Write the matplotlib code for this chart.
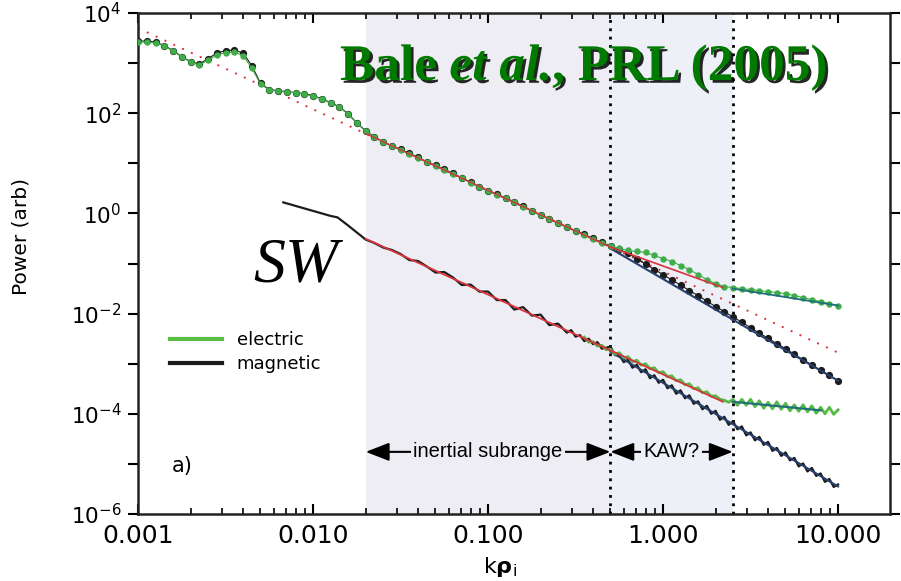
import matplotlib.pyplot as plt
import matplotlib.patheffects as pe
from matplotlib.lines import Line2D
from matplotlib.ticker import NullFormatter
import numpy as np

lk_upper = [-3.00, -2.95, -2.90, -2.85, -2.80, -2.75, -2.70, -2.65, -2.60, -2.55,
            -2.50, -2.45, -2.40, -2.35, -2.30, -2.25, -2.20, -2.15, -2.10, -2.05,
            -2.00, -1.95, -1.90, -1.85, -1.80, -1.75, -1.70, -1.65, -1.60, -1.55,
            -1.50, -1.45, -1.40, -1.35, -1.30, -1.25, -1.20, -1.15, -1.10, -1.05,
            -1.00, -0.95, -0.90, -0.85, -0.80, -0.75, -0.70, -0.65, -0.60, -0.55,
            -0.50, -0.45, -0.40, -0.35, -0.30, -0.25, -0.20, -0.15, -0.10, -0.05,
            0.00, 0.05, 0.10, 0.15, 0.20, 0.25, 0.30, 0.35, 0.40, 0.45,
            0.50, 0.55, 0.60, 0.65, 0.70, 0.75, 0.80, 0.85, 0.90, 0.95,
            1.00]
lp_upper_electric = [3.42, 3.42, 3.40, 3.34, 3.24, 3.12, 3.02, 2.96, 3.06, 3.16,
                     3.21, 3.22, 3.15, 2.90, 2.58, 2.46, 2.44, 2.42, 2.41, 2.38,
                     2.34, 2.28, 2.20, 2.12, 1.98, 1.80, 1.64, 1.52, 1.42, 1.34,
                     1.27, 1.19, 1.11, 1.02, 0.95, 0.87, 0.79, 0.70, 0.61, 0.52,
                     0.44, 0.37, 0.30, 0.22, 0.13, 0.04, -0.04, -0.12, -0.20, -0.28,
                     -0.36, -0.43, -0.51, -0.59, -0.66, -0.70, -0.74, -0.76, -0.78, -0.84,
                     -0.90, -0.96, -1.04, -1.12, -1.22, -1.32, -1.40, -1.46, -1.48, -1.50,
                     -1.52, -1.54, -1.56, -1.58, -1.60, -1.64, -1.68, -1.72, -1.76, -1.80,
                     -1.84]
lp_upper_magnetic = [3.44, 3.44, 3.42, 3.35, 3.25, 3.13, 3.03, 2.98, 3.09, 3.20,
                     3.25, 3.26, 3.20, 2.95, 2.60, 2.47, 2.45, 2.43, 2.41, 2.39,
                     2.35, 2.29, 2.21, 2.13, 1.99, 1.81, 1.65, 1.53, 1.43, 1.35,
                     1.28, 1.20, 1.12, 1.03, 0.96, 0.88, 0.80, 0.71, 0.62, 0.53,
                     0.45, 0.38, 0.31, 0.23, 0.14, 0.05, -0.03, -0.11, -0.19, -0.27,
                     -0.35, -0.42, -0.50, -0.58, -0.65, -0.72, -0.80, -0.90, -1.01, -1.12,
                     -1.22, -1.33, -1.43, -1.54, -1.64, -1.75, -1.86, -1.96, -2.07, -2.17,
                     -2.28, -2.39, -2.49, -2.60, -2.70, -2.81, -2.92, -3.02, -3.13, -3.23,
                     -3.34]

lk_lower_magnetic = [-2.17, -2.10, -2.00, -1.90, -1.86, -1.80, -1.75, -1.70, -1.65, -1.60,
                     -1.55, -1.50, -1.45, -1.40, -1.35, -1.30, -1.25, -1.20, -1.15, -1.10,
                     -1.05, -1.00, -0.95, -0.90, -0.85, -0.80, -0.75, -0.70, -0.65, -0.60,
                     -0.55, -0.525, -0.50, -0.475, -0.45, -0.425, -0.40, -0.375, -0.35, -0.325,
                     -0.30, -0.275, -0.25, -0.225, -0.20, -0.175, -0.15, -0.125, -0.10, -0.075,
                     -0.05, -0.025, 0.00, 0.025, 0.05, 0.075, 0.10, 0.125, 0.15, 0.175,
                     0.20, 0.225, 0.25, 0.275, 0.30, 0.325, 0.35, 0.375, 0.40, 0.425,
                     0.45, 0.475, 0.50, 0.525, 0.55, 0.575, 0.60, 0.625, 0.65, 0.675,
                     0.70, 0.725, 0.75, 0.775, 0.80, 0.825, 0.85, 0.875, 0.90, 0.925,
                     0.95, 0.975, 1.00]
lp_lower_magnetic = [0.22, 0.15, 0.05, -0.05, -0.08, -0.24, -0.38, -0.52, -0.59, -0.68,
                     -0.73, -0.81, -0.93, -0.95, -1.06, -1.18, -1.17, -1.28, -1.43, -1.42,
                     -1.56, -1.56, -1.73, -1.73, -1.92, -1.87, -2.04, -2.02, -2.23, -2.20,
                     -2.38, -2.33, -2.46, -2.43, -2.55, -2.50, -2.61, -2.57, -2.70, -2.68,
                     -2.66, -2.83, -2.82, -2.97, -2.92, -3.08, -3.02, -3.17, -3.11, -3.29,
                     -3.23, -3.38, -3.32, -3.49, -3.43, -3.60, -3.53, -3.69, -3.63, -3.80,
                     -3.75, -3.91, -3.84, -4.00, -3.94, -4.12, -4.06, -4.22, -4.15, -4.31,
                     -4.25, -4.43, -4.37, -4.53, -4.46, -4.62, -4.56, -4.74, -4.68, -4.84,
                     -4.77, -4.93, -4.88, -5.05, -4.99, -5.15, -5.08, -5.24, -5.19, -5.36,
                     -5.30, -5.46, -5.41]

lk_lower_electric = [-0.45, -0.425, -0.40, -0.375, -0.35, -0.325, -0.30, -0.275, -0.25, -0.225,
                     -0.20, -0.175, -0.15, -0.125, -0.10, -0.075, -0.05, -0.025, 0.00, 0.025,
                     0.05, 0.075, 0.10, 0.125, 0.15, 0.175, 0.20, 0.225, 0.25, 0.275,
                     0.30, 0.325, 0.35, 0.375, 0.40, 0.425, 0.45, 0.475, 0.50, 0.525,
                     0.55, 0.575, 0.60, 0.625, 0.65, 0.675, 0.70, 0.725, 0.75, 0.775,
                     0.80, 0.825, 0.85, 0.875, 0.90, 0.925, 0.95, 0.975, 1.00]
lp_lower_electric = [-2.47, -2.57, -2.56, -2.65, -2.63, -2.72, -2.71, -2.81, -2.78, -2.88,
                     -2.86, -2.96, -2.93, -3.03, -3.00, -3.10, -3.08, -3.18, -3.16, -3.26,
                     -3.24, -3.34, -3.32, -3.42, -3.40, -3.50, -3.48, -3.58, -3.56, -3.65,
                     -3.64, -3.71, -3.73, -3.77, -3.71, -3.83, -3.71, -3.83, -3.71, -3.86,
                     -3.74, -3.89, -3.77, -3.90, -3.76, -3.91, -3.79, -3.94, -3.82, -3.95,
                     -3.82, -3.96, -3.84, -3.99, -3.87, -4.00, -3.87, -4.01, -3.92]

# power-law fits, endpoints (k rho_i, power)
fit_k53_k = [0.001, 10.0]
fit_k53_p = [5.0e3, 1.66e-3]
fit_upper_inertial_k = [0.02, 0.5]
fit_upper_inertial_p = [39.1, 0.213]
fit_upper_kaw_k = [0.5, 2.2]
fit_upper_kaw_p = [0.213, 0.0331]
fit_lower_k = [0.02, 2.2]
fit_lower_p = [0.311, 1.74e-4]
fit_upper_mag_k = [0.5, 10.0]
fit_upper_mag_p = [0.20, 4.57e-4]
fit_upper_ele_k = [2.5, 10.0]
fit_upper_ele_p = [0.0316, 0.0145]
fit_lower_mag_k = [0.5, 10.0]
fit_lower_mag_p = [1.74e-3, 3.55e-6]
fit_lower_ele_k = [2.5, 8.0]
fit_lower_ele_p = [1.74e-4, 1.17e-4]

# ranges and axis labels
inertial_range = (0.02, 0.5)
kaw_range = (0.5, 2.5)
xtick_vals = [0.001, 0.01, 0.1, 1.0, 10.0]
xtick_text = ['0.001', '0.010', '0.100', '1.000', '10.000']
ytick_major = [1e-6, 1e-4, 1e-2, 1e0, 1e2, 1e4]
ytick_minor = [1e-5, 1e-3, 1e-1, 1e1, 1e3]

green = '#3fae48'
black = '#1c1c1c'
red = '#d9343d'

fig = plt.figure(figsize=(9.01, 5.81), dpi=100)
ax = fig.add_axes([0.1532, 0.1153, 0.8346, 0.8623])
ax.set_xscale('log')
ax.set_yscale('log')
ax.set_xlim(0.001, 19.8)
ax.set_ylim(1e-6, 1e4)

ax.axvspan(*inertial_range, color='#efedf4', lw=0, zorder=0)
ax.axvspan(*kaw_range, color='#edf0f6', lw=0, zorder=0)
for xv in (inertial_range[1], kaw_range[1]):
    ax.axvline(xv, color='black', lw=2, ls=(0, (1, 2)), zorder=1)

ax.plot(fit_k53_k, fit_k53_p, color=red, lw=1.4, ls=(0, (1, 4)), zorder=2)

ku = 10.0 ** np.array(lk_upper)
ax.plot(ku, 10.0 ** np.array(lp_upper_magnetic), '-o', color=black, ms=5.2, lw=0.8,
        mew=0, zorder=3)
ax.plot(fit_upper_mag_k, fit_upper_mag_p, color='#27406e', lw=1.5, zorder=3.5)
ax.plot(ku, 10.0 ** np.array(lp_upper_electric), '-o', color=green, ms=4.6, lw=0.8,
        mew=0, zorder=4)
ax.plot(fit_upper_ele_k, fit_upper_ele_p, color='#1f6f7a', lw=1.3, zorder=4.5)
ax.plot(fit_upper_inertial_k, fit_upper_inertial_p, color=red, lw=1.0, zorder=5)
ax.plot(fit_upper_kaw_k, fit_upper_kaw_p, color=red, lw=1.2, zorder=5)

ax.plot(10.0 ** np.array(lk_lower_magnetic), 10.0 ** np.array(lp_lower_magnetic),
        color=black, lw=1.6, zorder=3)
ax.plot(fit_lower_mag_k, fit_lower_mag_p, color='#27406e', lw=1.5, zorder=3.5)
ax.plot(10.0 ** np.array(lk_lower_electric), 10.0 ** np.array(lp_lower_electric),
        color='#56b947', lw=2.0, zorder=4)
ax.plot(fit_lower_ele_k, fit_lower_ele_p, color='#1f6f7a', lw=1.5, zorder=4.5)
ax.plot(fit_lower_k, fit_lower_p, color=red, lw=1.3, zorder=5)

# axes styling
for sp in ax.spines.values():
    sp.set_linewidth(1.8)
    sp.set_color('#222222')
ax.set_xticks(xtick_vals)
ax.set_xticklabels(xtick_text)
ax.xaxis.set_minor_formatter(NullFormatter())
ax.set_yticks(ytick_major)
ax.set_yticks(ytick_minor, minor=True)
ax.yaxis.set_minor_formatter(NullFormatter())
ax.tick_params(axis='x', which='major', direction='in', length=7, width=1.5,
               top=True, labelsize=18, pad=7)
ax.tick_params(axis='x', which='minor', direction='in', length=4, width=1.2, top=True)
ax.tick_params(axis='y', which='both', direction='out', length=7, width=1.5,
               right=True, labelsize=15.5, pad=5)

ax.set_xlabel(r'k$\mathbf{\rho}_\mathregular{i}$', fontsize=16)
ax.xaxis.set_label_coords(0.481, -0.082)
ax.set_ylabel('Power (arb)', fontsize=14.5)
ax.yaxis.set_label_coords(-0.1436, 0.553)

handles = [Line2D([], [], color='#5cbf45', lw=3), Line2D([], [], color=black, lw=3)]
ax.legend(handles, ['electric', 'magnetic'], loc='upper left',
          bbox_to_anchor=(0.0426, 0.365), frameon=False, fontsize=13,
          handlelength=2.9, handletextpad=0.8, labelspacing=0.35,
          borderpad=0, borderaxespad=0)

# range markers
arrow_y = 1.74e-5
arrow_style = dict(arrowstyle='<|-|>,head_length=0.9,head_width=0.35', color='black',
                   lw=1.5, shrinkA=0, shrinkB=0, mutation_scale=16)
ax.annotate('', xy=(inertial_range[0], arrow_y), xytext=(inertial_range[1], arrow_y),
            arrowprops=arrow_style, zorder=6)
ax.text(0.1, arrow_y, 'inertial subrange', ha='center', va='center',
        family='Liberation Sans', fontsize=14.5, zorder=7,
        bbox=dict(fc='#efedf4', ec='none', pad=1.5))
ax.annotate('', xy=(kaw_range[0], arrow_y), xytext=(kaw_range[1], arrow_y),
            arrowprops=arrow_style, zorder=6)
ax.text(1.118, arrow_y, 'KAW?', ha='center', va='center',
        family='Liberation Sans', fontsize=14.5, zorder=7,
        bbox=dict(fc='#edf0f6', ec='none', pad=1.5))

ax.text(0.00156, 9.1e-6, 'a)', ha='left', va='center', fontsize=15)
ax.text(0.00454, 0.0437, 'SW', family='Liberation Serif', style='italic',
        fontsize=46, va='baseline', ha='left', zorder=7)

# citation banner with drop shadow
shadow = [pe.withSimplePatchShadow(offset=(2, -2), shadow_rgbFace='black', alpha=0.85)]
banner = dict(family='Liberation Serif', weight='bold', fontsize=37, color='#007a00',
              path_effects=shadow)
t1 = fig.text(340 / 901, 1 - 80 / 581, 'Bale', va='baseline', **banner)
t2 = ax.annotate('et al.', xy=(1, 0), xycoords=t1, xytext=(9, 0),
                 textcoords='offset points', va='bottom', style='italic', **banner)
t3 = ax.annotate(', PRL (2005)', xy=(1, 0), xycoords=t2, va='bottom', **banner)

fig.savefig('out.png', dpi=100)
